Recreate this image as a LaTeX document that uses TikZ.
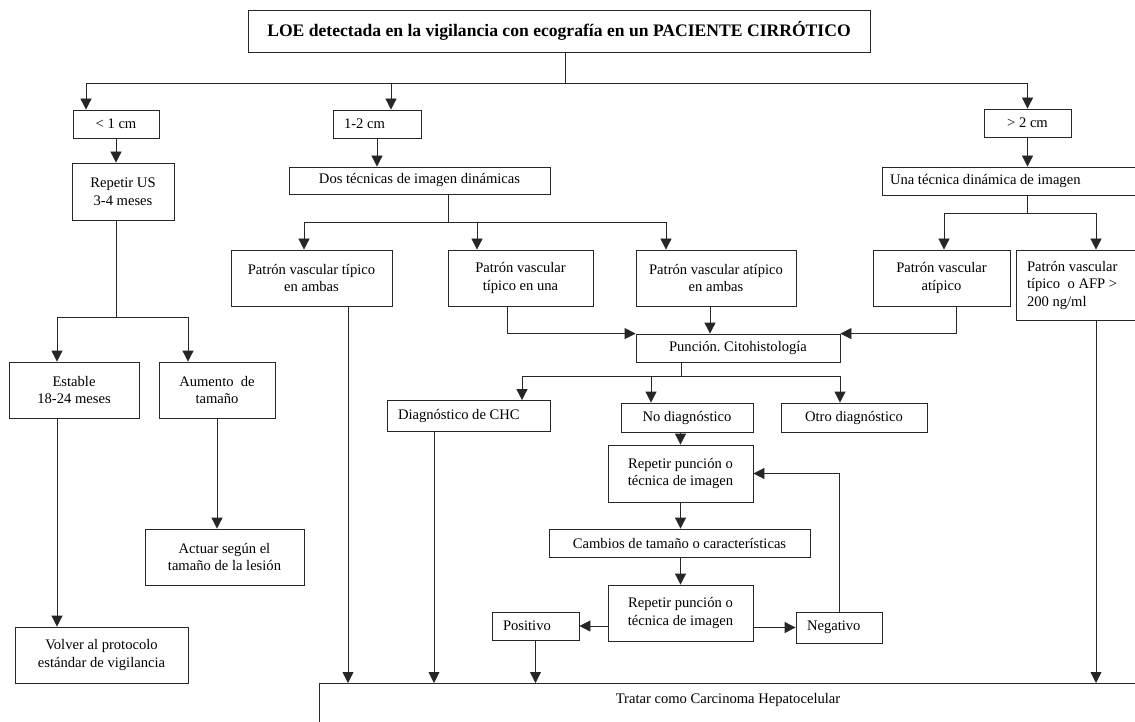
\documentclass[tikz,border=0pt]{standalone}
\usepackage{fontspec}
\setmainfont{Liberation Serif}
\usepackage{tikz}
\usetikzlibrary{positioning,arrows.meta}

\newcommand\flowfont{\fontsize{14.6}{17.5}\selectfont\frenchspacing}
\newcommand\headfont{\fontsize{17.6}{21}\selectfont\bfseries\frenchspacing}

\begin{document}
\begin{tikzpicture}[
  x=1pt, y=-1pt,
  box/.style={draw=black!85, line width=0.8pt, align=center, font=\flowfont, inner sep=0pt},
  lbox/.style={box, align=flush left, inner xsep=11pt},
  arr/.style={-{Triangle[length=11pt,width=11pt]}, line width=0.8pt, draw=black!85}
]
\useasboundingbox (0,0) rectangle (1135,722);
\clip (0,0) rectangle (1135,722);

\node[box, font=\headfont, minimum width=622pt, minimum height=42pt] (top) at (559,31) {LOE detectada en la vigilancia con ecografía en un PACIENTE CIRRÓTICO};

% size branches
\node[box, minimum width=86pt, minimum height=28pt] (lt1) at (116,124) {< 1 cm};
\node[lbox, text width=66pt, minimum height=28pt] (mid) at (377,124) {1-2 cm};
\node[box, minimum width=87pt, minimum height=28pt] (gt2) at (1027.5,123) {> 2 cm};

\node[box, minimum width=102pt, minimum height=57pt] (rep) at (123,191.5) {Repetir US\\3-4 meses};
\node[box, minimum width=261pt, minimum height=27pt] (dos) at (419.5,180.5) {Dos técnicas de imagen dinámicas};
\node[lbox, inner xsep=8pt, text width=274pt, minimum height=28pt] (una) at (1027,181) {Una técnica dinámica de imagen};

% vascular patterns
\node[box, minimum width=161pt, minimum height=56pt] (ptamb) at (311.5,278) {Patrón vascular típico\\en ambas};
\node[box, minimum width=145pt, minimum height=56pt] (ptuna) at (520.5,278) {Patrón vascular\\típico en una};
\node[box, minimum width=160pt, minimum height=56pt] (paamb) at (716,278) {Patrón vascular atípico\\en ambas};
\node[box, minimum width=137pt, minimum height=56pt] (pat) at (941.5,278) {Patrón vascular\\atípico};
\node[lbox, text width=138pt, minimum height=70pt] (afp) at (1096,285) {Patrón vascular\\típico\ \ o AFP >\\200 ng/ml};

\node[box, minimum width=204pt, minimum height=28pt] (pun) at (738,348) {Punción. Citohistología};
\node[box, minimum width=130pt, minimum height=56pt] (est) at (74,390) {Estable\\18-24 meses};
\node[box, minimum width=116pt, minimum height=56pt] (aum) at (217,390) {Aumento\ \ de\\tamaño};

% biopsy results
\node[lbox, text width=141pt, minimum height=31pt] (chc) at (468.5,416) {Diagnóstico de CHC};
\node[box, minimum width=132pt, minimum height=29pt] (nod) at (687,417.5) {No diagnóstico};
\node[box, minimum width=146pt, minimum height=29pt] (otro) at (854,417.5) {Otro diagnóstico};
\node[box, minimum width=145pt, minimum height=57pt] (rp1) at (680.5,473.5) {Repetir punción o\\técnica de imagen};
\node[box, minimum width=159pt, minimum height=56pt] (act) at (224.5,557) {Actuar según el\\tamaño de la lesión};
\node[box, minimum width=261pt, minimum height=28pt] (cam) at (679.5,543) {Cambios de tamaño o características};
\node[box, minimum width=145pt, minimum height=56pt] (rp2) at (680.5,613) {Repetir punción o\\técnica de imagen};
\node[lbox, text width=65pt, minimum height=28pt] (pos) at (535.5,626) {Positivo};
\node[lbox, text width=64pt, minimum height=31pt] (neg) at (839,627.5) {Negativo};
\node[box, minimum width=173pt, minimum height=56pt] (vol) at (101.5,655) {Volver al protocolo\\estándar de vigilancia};
\node[box, anchor=north, minimum width=818pt, inner ysep=9pt, text height=11pt, text depth=60pt] (hcc) at (728,683) {Tratar como Carcinoma Hepatocelular};

% top split
\coordinate (bar) at (565,83);
\draw[line width=0.8pt, black!85] (top.south -| bar) -- (bar);
\draw[arr] (bar) -| ([xshift=-30pt]lt1.north);
\draw[arr] (bar) -| ([xshift=14pt]mid.north);
\draw[arr] (bar) -| (gt2.north);

% < 1 cm
\draw[arr] (lt1.south) -- (lt1.south |- rep.north);
\coordinate (rs) at (116,317);
\draw[line width=0.8pt, black!85] (rep.south -| rs) -- (rs);
\draw[arr] (rs) -| ([xshift=-17pt]est.north);
\draw[arr] (rs) -| ([xshift=-29pt]aum.north);
\draw[arr] ([xshift=-17pt]est.south) -- ([xshift=-17pt]est.south |- vol.north);
\draw[arr] (aum.south) -- (aum.south |- act.north);

% 1-2 cm
\draw[arr] (mid.south) -- (mid.south |- dos.north);
\coordinate (ds) at (448,222);
\draw[line width=0.8pt, black!85] (dos.south -| ds) -- (ds);
\draw[arr] (ds) -| ([xshift=-7.5pt]ptamb.north);
\draw[arr] (ds) -| ([xshift=-43.5pt]ptuna.north);
\draw[arr] (ds) -| ([xshift=-50pt]paamb.north);

% > 2 cm
\draw[arr] (gt2.south) -- (gt2.south |- una.north);
\coordinate (us) at (1027,213);
\draw[line width=0.8pt, black!85] (una.south) -- (us);
\draw[arr] (us) -| ([xshift=2.5pt]pat.north);
\draw[arr] (us) -| (afp.north);

\draw[arr] ([xshift=36.5pt]ptamb.south) -- ([xshift=36.5pt]ptamb.south |- hcc.north);
\draw[arr] ([xshift=-13.5pt]ptuna.south) |- (pun.north west);
\draw[arr] ([xshift=-6pt]paamb.south) -- ([xshift=-6pt]paamb.south |- pun.north);
\draw[arr] ([xshift=14.5pt]pat.south) |- (pun.north east);
\draw[arr] (afp.south) -- (afp.south |- hcc.north);

% biopsy
\coordinate (ps) at (681,376);
\draw[line width=0.8pt, black!85] (pun.south -| ps) -- (ps);
\draw[arr] (ps) -| ([xshift=53.5pt]chc.north);
\draw[arr] (ps) -| ([xshift=-36pt]nod.north);
\draw[arr] (ps) -| ([xshift=-14pt]otro.north);
\draw[arr] ([xshift=-34.5pt]chc.south) -- ([xshift=-34.5pt]chc.south |- hcc.north);
\draw[arr] (nod.south -| rp1) -- (rp1.north);
\draw[arr] (rp1.south) -- (rp1.south |- cam.north);
\draw[arr] (cam.south -| rp2) -- (rp2.north);
\draw[arr] (rp2.west |- pos) -- (pos.east);
\draw[arr] (rp2.east |- neg) -- (neg.west);
\draw[arr] (neg.north) |- (rp1.east);
\draw[arr] (pos.south) -- (pos.south |- hcc.north);
\end{tikzpicture}
\end{document}
